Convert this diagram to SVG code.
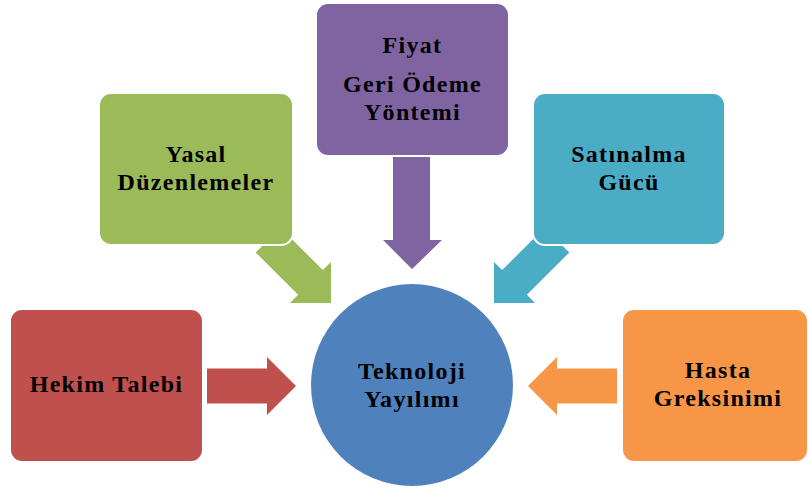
<svg xmlns="http://www.w3.org/2000/svg" width="808" height="490" viewBox="0 0 808 490">
  <style>
    .box { stroke: #ffffff; stroke-width: 2; }
    .lbl { font-family: "Liberation Serif", "DejaVu Serif", serif; font-weight: bold; font-size: 24px; letter-spacing: 1.3px; fill: #000000; text-anchor: middle; }
  </style>
  <defs>
    <!-- block arrow pointing along +x, tip at the origin -->
    <polygon id="blockArrow" points="-89,-17.5 -29,-17.5 -29,-29 0,0 -29,29 -29,17.5 -89,17.5"/>
  </defs>
  <rect width="808" height="490" fill="#ffffff"/>

  <!-- connectors: block arrows pointing into the centre -->
  <g id="connectors">
    <use href="#blockArrow" fill="#C0504D" transform="translate(296,386)"/>
    <use href="#blockArrow" fill="#F79646" transform="translate(528,386) rotate(180)"/>
    <use href="#blockArrow" fill="#9BBB59" transform="translate(331,303) rotate(45)"/>
    <use href="#blockArrow" fill="#4BACC6" transform="translate(494,303) rotate(135)"/>
    <polygon fill="#8064A2" points="393,150 430,150 430,240 442,240 412,269 383,240 393,240"/>
  </g>

  <g id="node-center">
    <circle cx="412" cy="385" r="101" fill="#4F81BD"/>
    <text class="lbl" x="412" y="379">Teknoloji</text>
    <text class="lbl" x="412" y="407">Yayılımı</text>
  </g>

  <g id="node-hekim">
    <rect class="box" x="10" y="309" width="193" height="153" rx="12" fill="#C0504D"/>
    <text class="lbl" x="106.5" y="392">Hekim Talebi</text>
  </g>

  <g id="node-yasal">
    <rect class="box" x="99" y="93" width="194" height="152" rx="12" fill="#9BBB59"/>
    <text class="lbl" x="196" y="162">Yasal</text>
    <text class="lbl" x="196" y="190">Düzenlemeler</text>
  </g>

  <g id="node-fiyat">
    <rect class="box" x="316" y="3" width="193" height="153" rx="12" fill="#8064A2"/>
    <text class="lbl" x="412.5" y="53">Fiyat</text>
    <text class="lbl" x="412.5" y="92">Geri Ödeme</text>
    <text class="lbl" x="412.5" y="120">Yöntemi</text>
  </g>

  <g id="node-satinalma">
    <rect class="box" x="533" y="93" width="192" height="152" rx="12" fill="#4BACC6"/>
    <text class="lbl" x="629" y="162">Satınalma</text>
    <text class="lbl" x="629" y="190">Gücü</text>
  </g>

  <g id="node-hasta">
    <rect class="box" x="622" y="309" width="186" height="153" rx="12" fill="#F79646"/>
    <text class="lbl" x="718" y="378">Hasta</text>
    <text class="lbl" x="718" y="406">Greksinimi</text>
  </g>
</svg>
